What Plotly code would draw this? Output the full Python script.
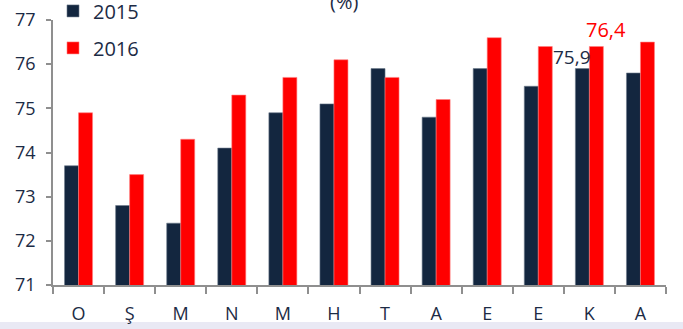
import plotly.graph_objects as go

# Monthly values, October to September
months = ["O", "Ş", "M", "N", "M", "H", "T", "A", "E", "E", "K", "A"]
values_2015 = [73.7, 72.8, 72.4, 74.1, 74.9, 75.1, 75.9, 74.8, 75.9, 75.5, 75.9, 75.8]
values_2016 = [74.9, 73.5, 74.3, 75.3, 75.7, 76.1, 75.7, 75.2, 76.6, 76.4, 76.4, 76.5]
y_ticks = [71, 72, 73, 74, 75, 76, 77]

# month index that carries value labels
label_idx = 10

NAVY = "#13263F"
RED = "#FF0000"
TEXT = "#1C2B45"
AXIS = "#8F8F8F"
FONT = "Open Sans"

positions = list(range(len(months)))

fig = go.Figure()
fig.add_trace(go.Bar(
    x=positions, y=values_2015, name="2015", legendgroup="a",
    marker=dict(color=NAVY, line=dict(color="#6D7A8C", width=0.6)),
))
fig.add_trace(go.Bar(
    x=positions, y=values_2016, name="2016", legendgroup="b",
    marker=dict(color=RED, line=dict(color="#FF8080", width=0.6)),
))


def fmt(v):
    return f"{v:.1f}".replace(".", ",")


fig.add_annotation(
    x=positions[label_idx], y=values_2015[label_idx], xref="x", yref="y",
    text=fmt(values_2015[label_idx]), showarrow=False,
    xanchor="right", yanchor="middle", xshift=4, yshift=12,
    font=dict(family=FONT, size=19, color=TEXT),
)
fig.add_annotation(
    x=positions[label_idx], y=values_2016[label_idx], xref="x", yref="y",
    text=fmt(values_2016[label_idx]), showarrow=False,
    xanchor="center", yanchor="middle", xshift=17, yshift=17,
    font=dict(family=FONT, size=20, color=RED),
)

# unit caption, partly cut off at the top edge
fig.add_annotation(
    x=0.475, y=1.0, xref="paper", yref="paper", yshift=19,
    text="(%)", showarrow=False, xanchor="center", yanchor="middle",
    font=dict(family=FONT, size=20, color=TEXT),
)

# light strip along the bottom edge
fig.add_shape(
    type="rect", xref="paper", yref="paper",
    x0=-0.2, x1=1.2, y0=-(322 - 285) / 265.5, y1=-0.3,
    fillcolor="#E9E9F4", line=dict(width=0), layer="below",
)

fig.update_layout(
    width=683, height=329,
    margin=dict(l=53, r=17, t=20, b=44, autoexpand=False),
    paper_bgcolor="white", plot_bgcolor="white",
    barmode="group", bargap=0.452, bargroupgap=0,
    font=dict(family=FONT, color=TEXT),
    showlegend=True,
    legend=dict(
        x=0.0, y=1.108, xanchor="left", yanchor="top",
        traceorder="grouped", tracegroupgap=8,
        font=dict(family=FONT, size=20, color=TEXT),
        bgcolor="rgba(0,0,0,0)", itemwidth=30,
    ),
    xaxis=dict(
        range=[-0.5, len(months) - 0.5],
        tickmode="array", tickvals=positions, ticktext=months,
        ticks="", showgrid=False, zeroline=False,
        showline=True, linecolor=AXIS, linewidth=1.5,
        tickfont=dict(family=FONT, size=18, color=TEXT),
        ticklabelstandoff=12,
        minor=dict(
            tickmode="array",
            tickvals=[p - 0.5 for p in positions] + [len(months) - 0.5],
            ticks="outside", ticklen=7, tickcolor=AXIS, tickwidth=1.5,
            showgrid=False,
        ),
    ),
    yaxis=dict(
        range=[71, 77], tickmode="array", tickvals=y_ticks,
        ticks="outside", ticklen=5, tickcolor=AXIS, tickwidth=1.5,
        showgrid=False, zeroline=False,
        showline=True, linecolor=AXIS, linewidth=1.5,
        tickfont=dict(family=FONT, size=18, color=TEXT),
        ticklabelstandoff=7,
    ),
)

fig.write_html("out.html")
